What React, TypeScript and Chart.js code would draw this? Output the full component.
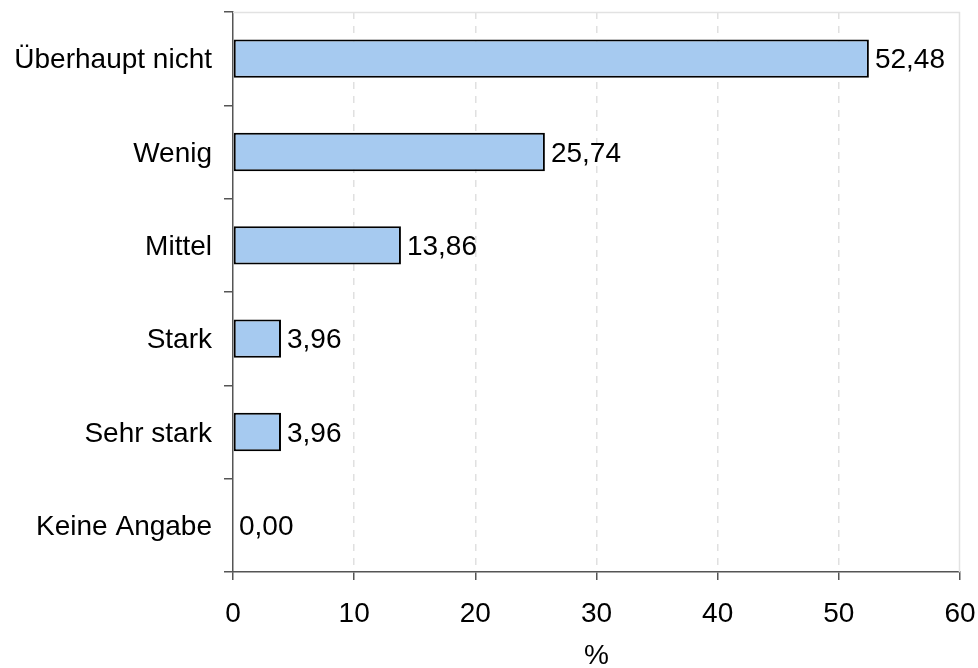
import React, { useEffect, useRef } from "react";
import { Chart, registerables } from "chart.js";

Chart.register(...registerables);

const categories = ["Überhaupt nicht", "Wenig", "Mittel", "Stark", "Sehr stark", "Keine Angabe"];
const values = [52.48, 25.74, 13.86, 3.96, 3.96, 0.0];
const xTicks = [0, 10, 20, 30, 40, 50, 60];
const xTitle = "%";

const FONT = "'Liberation Sans', Arial, sans-serif";
const FS = 28;

const labelPlugin = {
  id: "valueLabels",
  afterDatasetsDraw(chart: any) {
    const ctx = chart.ctx;
    const meta = chart.getDatasetMeta(0);
    ctx.save();
    ctx.font = `${FS}px ${FONT}`;
    ctx.fillStyle = "#000";
    ctx.textAlign = "left";
    ctx.textBaseline = "middle";
    meta.data.forEach((bar: any, i: number) => {
      const v = values[i];
      ctx.fillText(v.toFixed(2).replace(".", ","), bar.x + 6, bar.y + 2);
    });
    ctx.restore();
  },
};

const framePlugin = {
  id: "frame",
  beforeDatasetsDraw(chart: any) {
    const { ctx, chartArea } = chart;
    ctx.save();
    ctx.strokeStyle = "#e2e2e2";
    ctx.lineWidth = 1.5;
    ctx.beginPath();
    ctx.moveTo(chartArea.left, chartArea.top + 0.5);
    ctx.lineTo(chartArea.right - 0.5, chartArea.top + 0.5);
    ctx.lineTo(chartArea.right - 0.5, chartArea.bottom);
    ctx.stroke();
    ctx.restore();
  },
};

export default function App() {
  const ref = useRef<HTMLCanvasElement | null>(null);
  useEffect(() => {
    document.body.style.margin = "0";
    const chart = new Chart(ref.current!, {
      type: "bar",
      data: {
        labels: categories,
        datasets: [
          {
            data: values,
            backgroundColor: "#a6caf0",
            borderColor: "#000",
            borderWidth: 2,
            borderSkipped: false,
            barPercentage: 0.41,
            categoryPercentage: 1,
          },
        ],
      },
      options: {
        indexAxis: "y",
        animation: false,
        responsive: true,
        maintainAspectRatio: false,
        layout: { padding: { top: 12, right: 18, left: 0, bottom: 0 } },
        plugins: { legend: { display: false }, tooltip: { enabled: false } },
        scales: {
          x: {
            min: 0,
            max: 60,
            afterBuildTicks(scale: any) {
              scale.ticks = xTicks.map((v) => ({ value: v }));
            },
            afterFit(scale: any) {
              scale.height = 96;
              scale.paddingLeft = 0;
              scale.paddingRight = 0;
            },
            grid: {
              color: (c: any) => (c.index === 0 || c.index === xTicks.length - 1 ? "rgba(0,0,0,0)" : "#e0e0e0"),
              lineWidth: 1.5,
              tickColor: "#555",
              tickLength: 8,
              tickBorderDash: [],
            },
            border: { display: true, color: "#555", width: 1.5, dash: [7, 7] },
            ticks: {
              color: "#000",
              font: { family: FONT, size: FS },
              padding: 17,
              maxRotation: 0,
            },
            title: {
              display: true,
              text: xTitle,
              color: "#000",
              font: { family: FONT, size: FS },
              padding: { top: 0, bottom: -5 },
            },
          },
          y: {
            afterFit(scale: any) {
              scale.width = 233;
              scale.paddingTop = 0;
              scale.paddingBottom = 0;
            },
            grid: {
              offset: true,
              drawOnChartArea: false,
              tickColor: "#555",
              tickLength: 9,
              lineWidth: 1.5,
            },
            border: { display: true, color: "#555", width: 1.5 },
            ticks: {
              color: "#000",
              font: { family: FONT, size: FS },
              padding: 12,
              labelOffset: 2,
            },
          },
        },
      },
      plugins: [labelPlugin, framePlugin],
    } as any);
    return () => chart.destroy();
  }, []);
  return (
    <div style={{ width: 978, height: 668, position: "relative" }}>
      <canvas ref={ref} />
    </div>
  );
}
